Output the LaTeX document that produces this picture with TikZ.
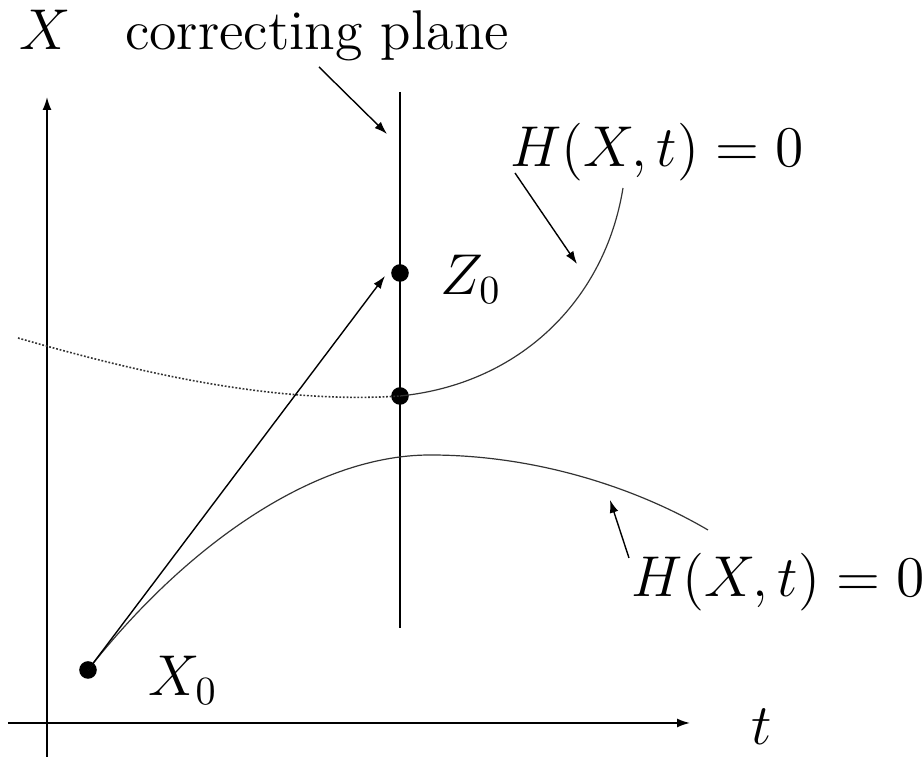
\documentclass[tikz,border=0pt]{standalone}
\usetikzlibrary{arrows.meta}
\begin{document}
\begin{tikzpicture}[x=0.25pt,y=-0.25pt,
  lbl/.style={inner sep=0pt,font=\fontsize{14}{17}\selectfont},
  axis/.style={line width=0.4pt,-{Latex[length=3.2pt,width=2.2pt]}},
  pointer/.style={line width=0.35pt,-{Latex[length=3.2pt,width=2.2pt]}},
  curve/.style={line width=0.3pt,black!80},
  dotpt/.style={circle,fill=black,inner sep=0pt,minimum size=4.4pt}]
\useasboundingbox (0,0) rectangle (924,757);
% axes
\coordinate (yb) at (47,757);
\coordinate (yt) at (47,97);
\coordinate (xl) at (8,723);
\coordinate (xr) at (690,723);
\draw[axis] (yb) -- (yt);
\draw[axis] (xl) -- (xr);
\node[lbl,anchor=base] (lX) at (45,50) {$X$};
\node[lbl,anchor=base] (lt) at (762,745) {$t$};
% correcting plane
\coordinate (pt) at (400,92);
\coordinate (pb) at (400,628);
\draw[line width=0.4pt] (pt) -- (pb);
\node[lbl,anchor=base] (lcp) at (317,50) {correcting plane};
\coordinate (cpa) at (319,67);
\coordinate (cpb) at (387,134);
\draw[pointer] (cpa) -- (cpb);
% points
\node[dotpt] (Z0) at (400,273) {};
\node[dotpt] (P) at (400,396) {};
\node[dotpt] (X0) at (88,670) {};
\node[lbl,anchor=base west] (lZ) at (440,295) {$Z_0$};
\node[lbl,anchor=base west] (lX0) at (148,696) {$X_0$};
% upper curve
\coordinate (u0) at (18,338);
\coordinate (u2) at (623,188);
\draw[curve,line width=0.4pt,dash pattern=on 0.45pt off 0.45pt] (u0) .. controls (150,376) and (280,404) .. (P.center);
\draw[curve] (P.center) .. controls (520,384) and (605,300) .. (u2);
% lower curve
\coordinate (l1) at (430,455);
\coordinate (l2) at (708,530);
\draw[curve] (X0.center) .. controls (180,552) and (310,455) .. (l1) .. controls (540,455) and (640,490) .. (l2);
% arrow to Z0
\coordinate (za) at (385,276);
\draw[pointer] (X0.center) -- (za);
% labels H
\node[lbl,anchor=base] (lH1) at (657,167) {$H(X,t)=0$};
\coordinate (h1a) at (515,173);
\coordinate (h1b) at (577,264);
\draw[pointer] (h1a) -- (h1b);
\node[lbl,anchor=base] (lH2) at (778,597) {$H(X,t)=0$};
\coordinate (h2a) at (629,558);
\coordinate (h2b) at (610,500);
\draw[pointer] (h2a) -- (h2b);
\end{tikzpicture}
\end{document}
